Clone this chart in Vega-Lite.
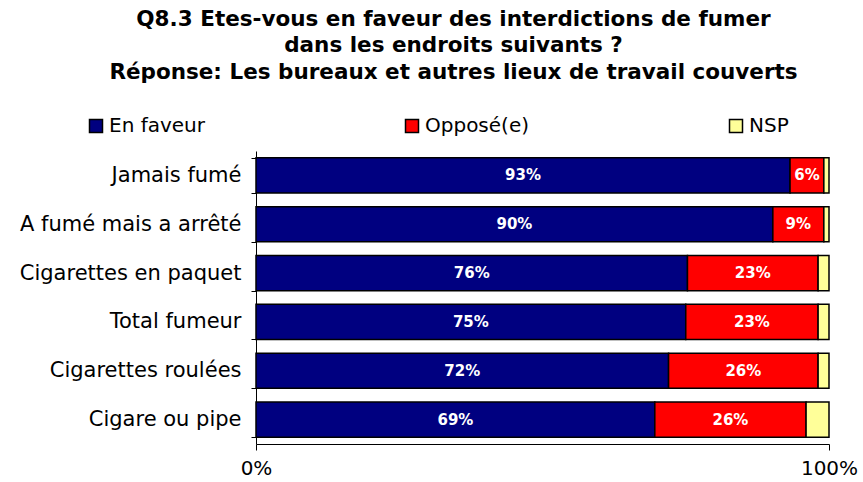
{
  "$schema": "https://vega.github.io/schema/vega-lite/v6.json",
  "width": 573,
  "height": 293,
  "autosize": {"type": "none"},
  "padding": {"left": 256, "top": 151, "right": 34, "bottom": 38},
  "background": "white",
  "config": {"font": "DejaVu Sans", "view": {"stroke": null}},
  "title": {
    "text": ["Q8.3 Etes-vous en faveur des interdictions de fumer", "dans les endroits suivants ?", "Réponse: Les bureaux et autres lieux de travail couverts"],
    "fontSize": 21.5,
    "fontWeight": "bold",
    "font": "DejaVu Sans",
    "color": "black",
    "anchor": "middle",
    "frame": "group",
    "dx": -89,
    "offset": 33,
    "lineHeight": 26.5
  },
  "data": {
    "values": [
      {"cat": "Jamais fumé", "rep": "En faveur", "o": 1, "value": 93.2, "label": "93%"},
      {"cat": "Jamais fumé", "rep": "Opposé(e)", "o": 2, "value": 5.9, "label": "6%"},
      {"cat": "Jamais fumé", "rep": "NSP", "o": 3, "value": 0.9, "label": ""},
      {"cat": "A fumé mais a arrêté", "rep": "En faveur", "o": 1, "value": 90.2, "label": "90%"},
      {"cat": "A fumé mais a arrêté", "rep": "Opposé(e)", "o": 2, "value": 8.9, "label": "9%"},
      {"cat": "A fumé mais a arrêté", "rep": "NSP", "o": 3, "value": 0.9, "label": ""},
      {"cat": "Cigarettes en paquet", "rep": "En faveur", "o": 1, "value": 75.3, "label": "76%"},
      {"cat": "Cigarettes en paquet", "rep": "Opposé(e)", "o": 2, "value": 22.8, "label": "23%"},
      {"cat": "Cigarettes en paquet", "rep": "NSP", "o": 3, "value": 1.9, "label": ""},
      {"cat": "Total fumeur", "rep": "En faveur", "o": 1, "value": 75.0, "label": "75%"},
      {"cat": "Total fumeur", "rep": "Opposé(e)", "o": 2, "value": 23.1, "label": "23%"},
      {"cat": "Total fumeur", "rep": "NSP", "o": 3, "value": 1.9, "label": ""},
      {"cat": "Cigarettes roulées", "rep": "En faveur", "o": 1, "value": 72.0, "label": "72%"},
      {"cat": "Cigarettes roulées", "rep": "Opposé(e)", "o": 2, "value": 26.1, "label": "26%"},
      {"cat": "Cigarettes roulées", "rep": "NSP", "o": 3, "value": 1.9, "label": ""},
      {"cat": "Cigare ou pipe", "rep": "En faveur", "o": 1, "value": 69.6, "label": "69%"},
      {"cat": "Cigare ou pipe", "rep": "Opposé(e)", "o": 2, "value": 26.4, "label": "26%"},
      {"cat": "Cigare ou pipe", "rep": "NSP", "o": 3, "value": 4.0, "label": ""}
    ]
  },
  "transform": [
    {"stack": "value", "groupby": ["cat"], "sort": [{"field": "o"}], "as": ["v0", "v1"]}
  ],
  "encoding": {
    "y": {
      "field": "cat",
      "type": "nominal",
      "sort": ["Jamais fumé", "A fumé mais a arrêté", "Cigarettes en paquet", "Total fumeur", "Cigarettes roulées", "Cigare ou pipe"],
      "scale": {"paddingInner": 0.28, "paddingOuter": 0.14},
      "axis": {
        "title": null,
        "labelFontSize": 21,
        "labelColor": "black",
        "labelPadding": 10,
        "labelLimit": 400,
        "domainColor": "black",
        "domainWidth": 1,
        "tickColor": "black",
        "tickSize": 5,
        "tickBand": "extent"
      }
    }
  },
  "layer": [
    {
      "mark": {"type": "bar", "stroke": "black", "strokeWidth": 1.5},
      "encoding": {
        "x": {
          "field": "v0",
          "type": "quantitative",
          "scale": {"domain": [0, 100], "nice": false},
          "axis": {
            "title": null,
            "values": [0, 100],
            "labelExpr": "datum.value + '%'",
            "labelFontSize": 20,
            "labelColor": "black",
            "labelPadding": 8,
            "grid": false,
            "domainColor": "black",
            "tickColor": "black",
            "tickSize": 6,
            "labelFlush": false
          }
        },
        "x2": {"field": "v1"},
        "color": {
          "field": "rep",
          "type": "nominal",
          "scale": {"domain": ["En faveur", "Opposé(e)", "NSP"], "range": ["#000080", "#FF0000", "#FFFF99"]},
          "legend": {
            "title": null,
            "orient": "none",
            "legendX": -170,
            "legendY": -35,
            "direction": "horizontal",
            "columns": 3,
            "columnPadding": 196,
            "symbolType": "square",
            "symbolSize": 169,
            "symbolStrokeColor": "black",
            "symbolStrokeWidth": 1.5,
            "symbolOpacity": 1,
            "labelFontSize": 20,
            "labelColor": "black",
            "labelOffset": 3
          }
        }
      }
    },
    {
      "transform": [
        {"filter": "datum.rep !== 'NSP'"},
        {"calculate": "(datum.v0 + datum.v1) / 2", "as": "mid"}
      ],
      "mark": {"type": "text", "color": "white", "fontWeight": "bold", "fontSize": 15, "align": "center", "baseline": "middle"},
      "encoding": {
        "x": {"field": "mid", "type": "quantitative"},
        "text": {"field": "label"}
      }
    }
  ]
}
